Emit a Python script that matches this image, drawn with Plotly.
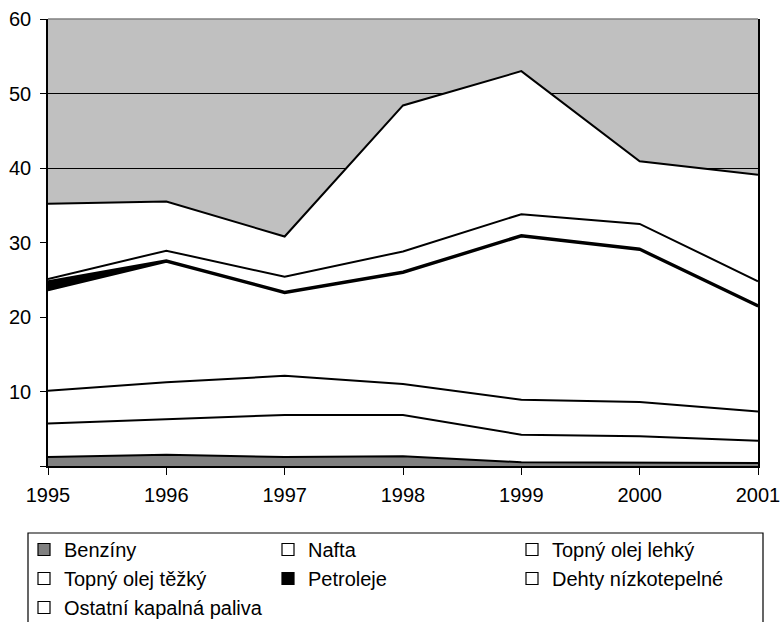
import plotly.graph_objects as go

years = [1995, 1996, 1997, 1998, 1999, 2000, 2001]
benziny = [1.2, 1.5, 1.2, 1.3, 0.5, 0.5, 0.4]
nafta = [4.5, 4.8, 5.65, 5.55, 3.7, 3.5, 3.0]
tol_lehky = [4.4, 4.95, 5.25, 4.15, 4.7, 4.6, 3.9]
tol_tezky = [13.5, 16.15, 11.1, 14.9, 21.9, 20.4, 14.1]
petroleje = [1.2, 0.2, 0.2, 0.2, 0.2, 0.2, 0.2]
dehty = [0.3, 1.3, 2.0, 2.7, 2.8, 3.3, 3.2]
ostatni = [10.1, 6.6, 5.4, 19.6, 19.2, 8.4, 14.3]

series = [
    ("Benzíny", benziny, "#808080"),
    ("Nafta", nafta, "#FFFFFF"),
    ("Topný olej lehký", tol_lehky, "#FFFFFF"),
    ("Topný olej těžký", tol_tezky, "#FFFFFF"),
    ("Petroleje", petroleje, "#000000"),
    ("Dehty nízkotepelné", dehty, "#FFFFFF"),
    ("Ostatní kapalná paliva", ostatni, "#FFFFFF"),
]

y_ticks = [0, 10, 20, 30, 40, 50, 60]
y_labels = ["", "10", "20", "30", "40", "50", "60"]

FONT = "Liberation Sans, Arial, sans-serif"
FS = 20

fig = go.Figure()
for name, vals, col in series:
    fig.add_trace(go.Scatter(
        x=years, y=vals, name=name, stackgroup="one", mode="lines",
        line=dict(color="black", width=2), fillcolor=col, showlegend=False,
        hoverinfo="x+y+name",
    ))
# legend entries as small bordered squares
for name, vals, col in series:
    fig.add_trace(go.Scatter(
        x=[None], y=[None], name=name, mode="markers",
        marker=dict(symbol="square", size=12, color=col,
                    line=dict(color="black", width=1.2)),
        showlegend=True,
    ))

W, H = 781, 622
PX0, PX1, PY0, PY1 = 48, 758, 19, 466   # plot area in window pixels
L, T = PX0, PY0
R, B = W - PX1, H - PY1
pw = PX1 - PX0
ph = PY1 - PY0

def px_x(p):
    return (p - PX0) / pw

def px_y(p):
    return (PY1 - p) / ph

fig.update_layout(
    width=W, height=H,
    margin=dict(l=L, r=R, t=T, b=B, autoexpand=False),
    paper_bgcolor="white",
    plot_bgcolor="#C0C0C0",
    font=dict(family=FONT, size=FS, color="black"),
    showlegend=True,
    legend=dict(
        orientation="h", x=px_x(24), xanchor="left", y=px_y(530), yanchor="top",
        entrywidth=199, entrywidthmode="pixels", traceorder="normal",
        font=dict(family=FONT, size=FS, color="black"),
        bgcolor="rgba(0,0,0,0)", borderwidth=0, tracegroupgap=0,
        itemsizing="trace",
    ),
    xaxis=dict(
        range=[1995, 2001], tickvals=years, ticktext=[str(y) for y in years],
        showgrid=False, zeroline=False, showline=True, linecolor="black", linewidth=1.5,
        ticks="outside", ticklen=7, tickcolor="black", tickwidth=1,
        ticklabelstandoff=3, tickfont=dict(family=FONT, size=FS), automargin=False,
    ),
    yaxis=dict(
        range=[0, 60], tickvals=y_ticks, ticktext=y_labels,
        showgrid=True, gridcolor="black", gridwidth=1, zeroline=False,
        showline=True, linecolor="black", linewidth=1.5, mirror=True,
        ticks="outside", ticklen=6, tickcolor="black", tickwidth=1,
        ticklabelstandoff=5, tickfont=dict(family=FONT, size=FS), automargin=False,
    ),
    shapes=[
        dict(type="line", xref="paper", yref="paper", x0=0, x1=1, y0=1, y1=1,
             line=dict(color="#808080", width=1.5), layer="above"),
        dict(type="rect", xref="paper", yref="paper",
             x0=px_x(28), x1=px_x(763), y0=px_y(533), y1=px_y(640),
             line=dict(color="black", width=1.2), fillcolor="rgba(0,0,0,0)", layer="above"),
    ],
)

fig.write_html(
    "out.html",
    config={"displayModeBar": False},
    post_script="document.body.style.margin='0';document.body.style.overflow='hidden';",
)
